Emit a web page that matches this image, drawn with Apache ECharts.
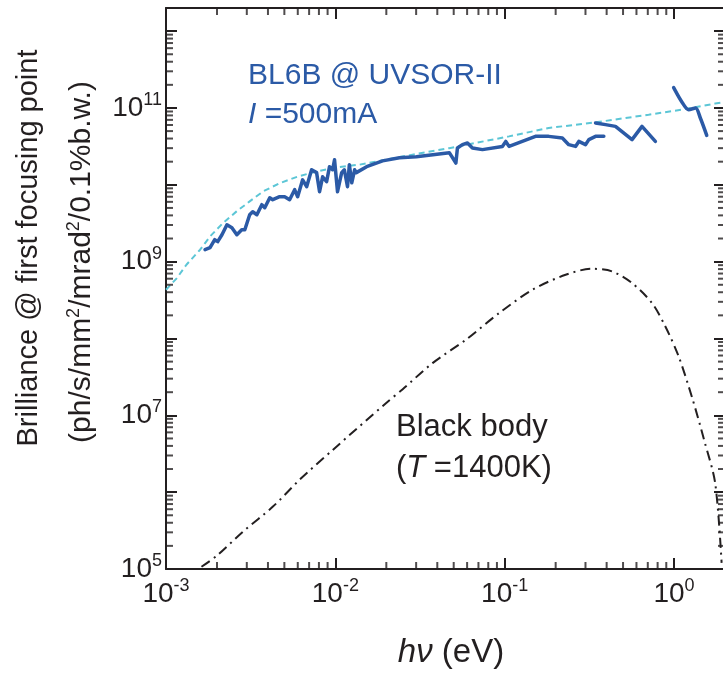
<!DOCTYPE html>
<html>
<head>
<meta charset="utf-8">
<script src="https://cdn.jsdelivr.net/npm/echarts@6/dist/echarts.min.js"></script>
<style>
  html, body { margin: 0; padding: 0; background: #fff; }
  #chart { width: 723px; height: 673px; }
</style>
</head>
<body>
<div id="chart"></div>
<script>
// BL6B @ UVSOR-II, measured brilliance (three scans)
var scanAEnergy = [1.70e-3, 1.82e-3, 1.94e-3, 2.02e-3, 2.14e-3, 2.29e-3, 2.45e-3, 2.62e-3, 2.80e-3, 2.92e-3,
  3.12e-3, 3.25e-3, 3.44e-3, 3.68e-3, 3.83e-3, 4.10e-3, 4.27e-3, 4.69e-3, 5.02e-3, 5.37e-3,
  5.75e-3, 5.99e-3, 6.41e-3, 6.77e-3, 7.24e-3, 7.75e-3, 8.07e-3, 8.41e-3, 8.88e-3, 9.24e-3,
  9.63e-3, 9.89e-3, 1.03e-2, 1.09e-2, 1.13e-2, 1.18e-2, 1.21e-2, 1.25e-2, 1.30e-2, 1.33e-2,
  1.53e-2, 1.90e-2, 2.39e-2, 3.01e-2, 4.71e-2, 5.15e-2, 5.26e-2, 5.63e-2, 6.03e-2, 6.45e-2,
  7.39e-2, 9.69e-2, 0.1015, 0.1061, 0.127, 0.152, 0.182, 0.219, 0.239, 0.262,
  0.274, 0.300, 0.314, 0.344, 0.385];
var scanABril = [1.43e9, 1.52e9, 1.93e9, 1.82e9, 2.24e9, 3.02e9, 2.76e9, 2.24e9, 2.60e9, 2.60e9,
  4.08e9, 4.46e9, 4.08e9, 5.51e9, 5.03e9, 6.79e9, 6.40e9, 7.00e9, 7.00e9, 6.40e9,
  8.64e9, 7.00e9, 1.16e10, 9.45e9, 1.57e10, 1.44e10, 8.13e9, 1.27e10, 1.10e10, 1.72e10,
  1.57e10, 2.12e10, 8.13e9, 1.44e10, 1.57e10, 9.45e9, 1.83e10, 1.06e10, 1.57e10, 1.44e10,
  1.72e10, 2.05e10, 2.25e10, 2.32e10, 2.62e10, 1.92e10, 3.01e10, 3.33e10, 3.50e10, 3.01e10,
  2.87e10, 3.16e10, 3.67e10, 3.16e10, 3.67e10, 4.27e10, 4.27e10, 4.06e10, 3.33e10, 3.16e10,
  3.67e10, 3.33e10, 3.87e10, 4.27e10, 4.27e10];
var scanBEnergy = [0.344, 0.394, 0.451, 0.565, 0.647, 0.776];
var scanBBril = [6.38e10, 6.07e10, 5.76e10, 3.87e10, 5.76e10, 3.67e10];
var scanCEnergy = [0.995, 1.12, 1.22, 1.34, 1.43, 1.56];
var scanCBril = [1.84e11, 1.17e11, 9.5e10, 1.0e11, 7.4e10, 4.4e10];

// calculated brilliance (dashed)
var calcEnergy = [1.0e-3, 1.16e-3, 1.32e-3, 1.59e-3, 1.82e-3, 2.17e-3, 2.61e-3, 3.12e-3, 3.74e-3, 4.69e-3,
  5.88e-3, 7.37e-3, 9.66e-3, 1.39e-2, 2.4e-2, 4.7e-2, 0.106, 0.182, 0.344, 0.708, 1.11, 1.75, 2.0];
var calcBril = [4.31e8, 6.11e8, 9.12e8, 1.43e9, 2.13e9, 3.18e9, 4.51e9, 6.08e9, 8.20e9, 1.05e10,
  1.26e10, 1.45e10, 1.66e10, 1.83e10, 2.3e10, 3.0e10, 4.27e10, 5.49e10, 6.50e10, 8.18e10, 9.5e10, 1.14e11, 1.19e11];

// black body, T = 1400 K (dash-dot)
var bbEnergy = [1.62e-3, 1.99e-3, 2.85e-3, 4.28e-3, 6.15e-3, 9.66e-3, 1.99e-2, 2.50e-2, 3.75e-2, 5.90e-2,
  9.27e-2, 0.146, 0.229, 0.328, 0.431, 0.565, 0.741, 0.889, 1.065, 1.28, 1.51, 1.75, 1.91];
var bbBril = [1.07e5, 1.48e5, 3.07e5, 6.49e5, 1.45e6, 3.55e6, 1.44e7, 2.19e7, 4.78e7, 9.62e7,
  2.14e8, 4.31e8, 6.75e8, 8.08e8, 7.46e8, 5.26e8, 2.89e8, 1.43e8, 5.83e7, 1.69e7, 4.66e6, 1.31e6, 1.2e5];

var xMajor = [1e-3, 1e-2, 1e-1, 1];
var xLabels = [1e-3, 1e-2, 1e-1, 1];
var yMajor = [1e5, 1e6, 1e7, 1e8, 1e9, 1e10, 1e11, 1e12];
var yLabels = [1e5, 1e7, 1e9, 1e11];
var xMin = 1e-3, xMax = 2;
var yMin = 1e5, yMax = 2e12;

function pairs(xs, ys) {
  return xs.map(function (x, i) { return [x, ys[i]]; });
}
// 2..9 ticks inside each decade
function minors(decades, max) {
  var out = [];
  decades.forEach(function (d) {
    for (var k = 2; k <= 9; k++) {
      var v = parseFloat((d * k).toPrecision(6));
      if (v < max) out.push(v);
    }
  });
  return out;
}

var ink = '#231f20';
var blue = '#2b5aa6';
var font = 'Liberation Sans';

function expLabel(v) {
  return '{b|10}{s|' + Math.round(Math.log10(v)) + '}';
}
var labelRich = {
  b: { fontSize: 28, fontFamily: font, color: ink, lineHeight: 34 },
  s: { fontSize: 18, fontFamily: font, color: ink, padding: [0, 0, 16, 0] }
};

function axis(kind, pos, labels) {
  var o = {
    type: 'log',
    position: pos,
    min: kind === 'x' ? xMin : yMin,
    max: kind === 'x' ? xMax : yMax,
    logBase: 10,
    splitLine: { show: false },
    axisLine: { show: true, lineStyle: { color: ink, width: 2 } },
    axisTick: {
      show: true, inside: true, length: 11,
      customValues: kind === 'x' ? xMajor : yMajor,
      lineStyle: { color: ink, width: 2 }
    },
    axisLabel: { show: false },
    axisPointer: { show: false }
  };
  if (labels) {
    o.axisLabel = {
      show: true,
      customValues: labels,
      margin: kind === 'x' ? 8 : 4,
      formatter: expLabel,
      rich: labelRich
    };
  }
  return o;
}

// short minor ticks (2..9 of each decade) on the four frame sides
var xMinor = minors(xMajor, xMax);
var yMinor = minors(yMajor, yMax);
function tickMarks(side) {
  var data, size, offset;
  if (side === 'bottom' || side === 'top') {
    data = xMinor.map(function (v) { return [v, side === 'bottom' ? yMin : yMax]; });
    size = [2, 7];
    offset = [0, side === 'bottom' ? -3.5 : 3.5];
  } else {
    data = yMinor.map(function (v) { return [side === 'left' ? xMin : xMax, v]; });
    size = [7, 2];
    offset = [side === 'left' ? 3.5 : -3.5, 0];
  }
  return {
    type: 'scatter', clip: false, z: 5,
    symbol: 'rect', symbolSize: size, symbolOffset: offset,
    itemStyle: { color: ink },
    data: data
  };
}

var chart = echarts.init(document.getElementById('chart'));

chart.setOption({
  animation: false,
  backgroundColor: '#fff',
  grid: { left: 166, top: 8, width: 559, height: 561, outerBoundsMode: 'none', containLabel: false },
  xAxis: [
    axis('x', 'bottom', xLabels),
    axis('x', 'top')
  ],
  yAxis: [
    axis('y', 'left', yLabels),
    axis('y', 'right')
  ],
  series: [
    tickMarks('bottom'),
    tickMarks('top'),
    tickMarks('left'),
    tickMarks('right'),
    {
      name: 'calc', type: 'line', symbol: 'none', silent: true,
      data: pairs(calcEnergy, calcBril),
      lineStyle: { color: '#5cc6d6', width: 2, type: [6, 4] }
    },
    {
      name: 'black body', type: 'line', symbol: 'none', silent: true, smooth: 0.3,
      data: pairs(bbEnergy, bbBril),
      lineStyle: { color: ink, width: 2, type: [10, 5, 2, 5] }
    },
    {
      name: 'scanA', type: 'line', symbol: 'none', silent: true,
      data: pairs(scanAEnergy, scanABril),
      lineStyle: { color: blue, width: 3.5, cap: 'round', join: 'round' }
    },
    {
      name: 'scanB', type: 'line', symbol: 'none', silent: true,
      data: pairs(scanBEnergy, scanBBril),
      lineStyle: { color: blue, width: 3.5, cap: 'round', join: 'round' }
    },
    {
      name: 'scanC', type: 'line', symbol: 'none', silent: true, smooth: 0.3,
      data: pairs(scanCEnergy, scanCBril),
      lineStyle: { color: blue, width: 3.5, cap: 'round', join: 'round' }
    }
  ],
  graphic: [
    {
      type: 'text', x: 29, y: 248, rotation: Math.PI / 2,
      style: {
        text: 'Brilliance @ first focusing point',
        fontSize: 29, fontFamily: font, fill: ink,
        align: 'center', verticalAlign: 'middle'
      }
    },
    {
      type: 'text', x: 82, y: 262, rotation: Math.PI / 2,
      style: {
        text: '{t|(ph/s/mm}{s|2}{t|/mrad}{s|2}{t|/0.1%b.w.)}',
        fill: ink, align: 'center', verticalAlign: 'middle',
        rich: {
          t: { fontSize: 30, fontFamily: font, fill: ink, lineHeight: 34 },
          s: { fontSize: 18, fontFamily: font, fill: ink, padding: [0, 0, 16, 0] }
        }
      }
    },
    {
      type: 'text', x: 451, y: 653,
      style: {
        text: '{i|hν}{t| (eV)}',
        fill: ink, align: 'center', verticalAlign: 'middle',
        rich: {
          i: { fontSize: 33, fontFamily: font, fontStyle: 'italic', fill: ink },
          t: { fontSize: 33, fontFamily: font, fill: ink }
        }
      }
    },
    {
      type: 'text', x: 248, y: 76,
      style: {
        text: 'BL6B @ UVSOR-II',
        fontSize: 30, fontFamily: font, fill: blue,
        align: 'left', verticalAlign: 'middle'
      }
    },
    {
      type: 'text', x: 248, y: 115,
      style: {
        text: '{i|I}{t| =500mA}',
        fill: blue, align: 'left', verticalAlign: 'middle',
        rich: {
          i: { fontSize: 30, fontFamily: font, fontStyle: 'italic', fill: blue },
          t: { fontSize: 30, fontFamily: font, fill: blue }
        }
      }
    },
    {
      type: 'text', x: 396, y: 427,
      style: {
        text: 'Black body',
        fontSize: 31, fontFamily: font, fill: ink,
        align: 'left', verticalAlign: 'middle'
      }
    },
    {
      type: 'text', x: 396, y: 468,
      style: {
        text: '{t|(}{i|T}{t| =1400K)}',
        fill: ink, align: 'left', verticalAlign: 'middle',
        rich: {
          i: { fontSize: 31, fontFamily: font, fontStyle: 'italic', fill: ink },
          t: { fontSize: 31, fontFamily: font, fill: ink }
        }
      }
    }
  ]
});
</script>
</body>
</html>
